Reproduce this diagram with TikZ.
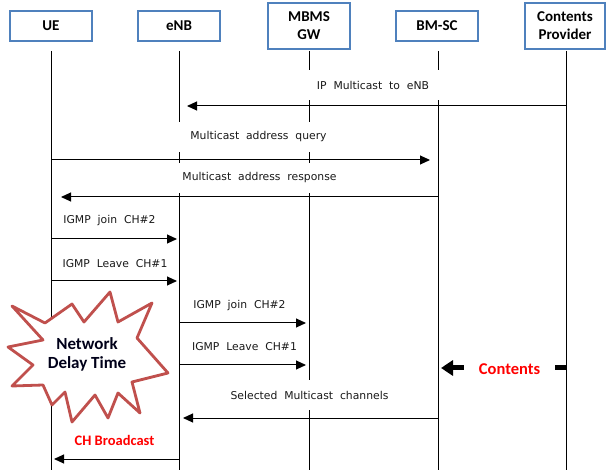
\documentclass[tikz,border=0pt]{standalone}
\usepackage{fontspec}
\setmainfont{Carlito}
\newfontfamily\msgfont[WordSpace=2]{DejaVu Sans}
\usetikzlibrary{arrows.meta}
\definecolor{boxblue}{RGB}{79,129,189}
\definecolor{starred}{RGB}{192,80,77}
\definecolor{txtred}{RGB}{255,0,0}
\begin{document}
\begin{tikzpicture}[x=1pt,y=-1pt,
  entity/.style={draw=boxblue, line width=1.2pt, fill=white, minimum width=82pt,
    minimum height=30pt, inner sep=0pt, align=center,
    font=\fontsize{15}{18}\selectfont\bfseries},
  tall/.style={minimum height=46pt},
  life/.style={line width=0.9pt},
  msg/.style={line width=1pt, -{Triangle[length=10pt,width=9pt]}},
  lbl/.style={font=\msgfont\fontsize{10.8}{13}\selectfont, text=black!90, inner sep=0pt},
  gapbox/.style={fill=white, minimum height=30pt},
  redlbl/.style={text=txtred, inner sep=0pt},
  burst/.style={draw=starred, line width=2.8pt, fill=white, line join=round},
]
\useasboundingbox (0,0) rectangle (608,470);
% entities
\node[entity] (ue) at (51,26) {UE};
\node[entity] (enb) at (179,26) {eNB};
\node[entity,tall] (mbms) at (309,26) {MBMS\\GW};
\node[entity] (bmsc) at (437,26) {BM-SC};
\node[entity,tall,minimum width=80pt] (cp) at (565,26) {Contents\\Provider};
% lifelines
\coordinate (ueT) at (51,51);   \coordinate (ueB) at (51,470);
\coordinate (enbT) at (179,51); \coordinate (enbB) at (179,470);
\coordinate (mbmsT) at (309,51); \coordinate (mbmsB) at (309,470);
\coordinate (bmscT) at (438,51); \coordinate (bmscB) at (438,470);
\coordinate (cpT) at (566,51);  \coordinate (cpB) at (566,470);
\draw[life] (ueT) -- (ueB);
\draw[life] (enbT) -- (enbB);
\draw[life] (mbmsT) -- (mbmsB);
\draw[life] (bmscT) -- (bmscB);
\draw[life] (cpT) -- (cpB);
% labels that mask lifelines
\node[lbl,gapbox,minimum width=150pt] (m1) at (373,85) {IP Multicast to eNB};
\node[lbl,gapbox,minimum width=166pt] (m2) at (258.5,137) {Multicast address query};
\node[lbl,gapbox,minimum width=170pt] (m3) at (259.5,178) {Multicast address response};
\node[lbl,gapbox,minimum width=180pt] (m8) at (309.5,395) {Selected Multicast channels};
% other labels
\node[lbl] (m4) at (109.5,221) {IGMP join CH\#2};
\node[lbl] (m5) at (115,264) {IGMP Leave CH\#1};
\node[lbl] (m6) at (239.5,306) {IGMP join CH\#2};
\node[lbl] (m7) at (244.5,347) {IGMP Leave CH\#1};
% messages
\draw[msg, shorten >=8pt] (cpT |- 0,106) -- (enbT |- 0,106);
\draw[msg, shorten >=8pt] (ueT |- 0,160) -- (bmscT |- 0,160);
\draw[msg, shorten >=10pt] (bmscT |- 0,197) -- (ueT |- 0,197);
\draw[msg, shorten >=2pt] (ueT |- 0,239) -- (enbT |- 0,239);
\draw[msg, shorten >=2pt] (ueT |- 0,281) -- (enbT |- 0,281);
\draw[msg, shorten >=3pt] (enbT |- 0,323) -- (mbmsT |- 0,323);
\draw[msg, shorten >=3pt] (enbT |- 0,365) -- (mbmsT |- 0,365);
\draw[msg, shorten >=4pt] (bmscT |- 0,418) -- (enbT |- 0,418);
\draw[msg, shorten >=3pt] (enbT |- 0,459) -- (ueT |- 0,459);
% contents thick arrow
\draw[line width=5pt, -{Triangle[length=12pt,width=15pt]}, shorten >=3pt]
  (cpT |- 0,368) -- (bmscT |- 0,368);
\node[redlbl, fill=white, minimum width=91pt, inner ysep=2pt,
  font=\fontsize{16.5}{19}\selectfont\bfseries] (cont) at (509.5,369) {Contents};
\node[redlbl, font=\fontsize{14.5}{17}\selectfont\bfseries] (chb) at (114.5,440) {CH Broadcast};
% network delay burst
\draw[burst] (12,306) -- (45,323) -- (72,304) -- (84,322) -- (110,292) -- (118,322)
  -- (152,303) -- (137,338) -- (168,373) -- (132,382) -- (140,413) -- (118,393)
  -- (108,418) -- (95,395) -- (72,422) -- (65,392) -- (52,405) -- (43,385)
  -- (12,386) -- (33,365) -- (8,347) -- (43,340) -- cycle;
\node[align=center, inner sep=0pt, font=\fontsize{17}{19}\selectfont\bfseries,
  text=black!90!blue] (ndt) at (87,354) {Network\\Delay Time};
\end{tikzpicture}
\end{document}
